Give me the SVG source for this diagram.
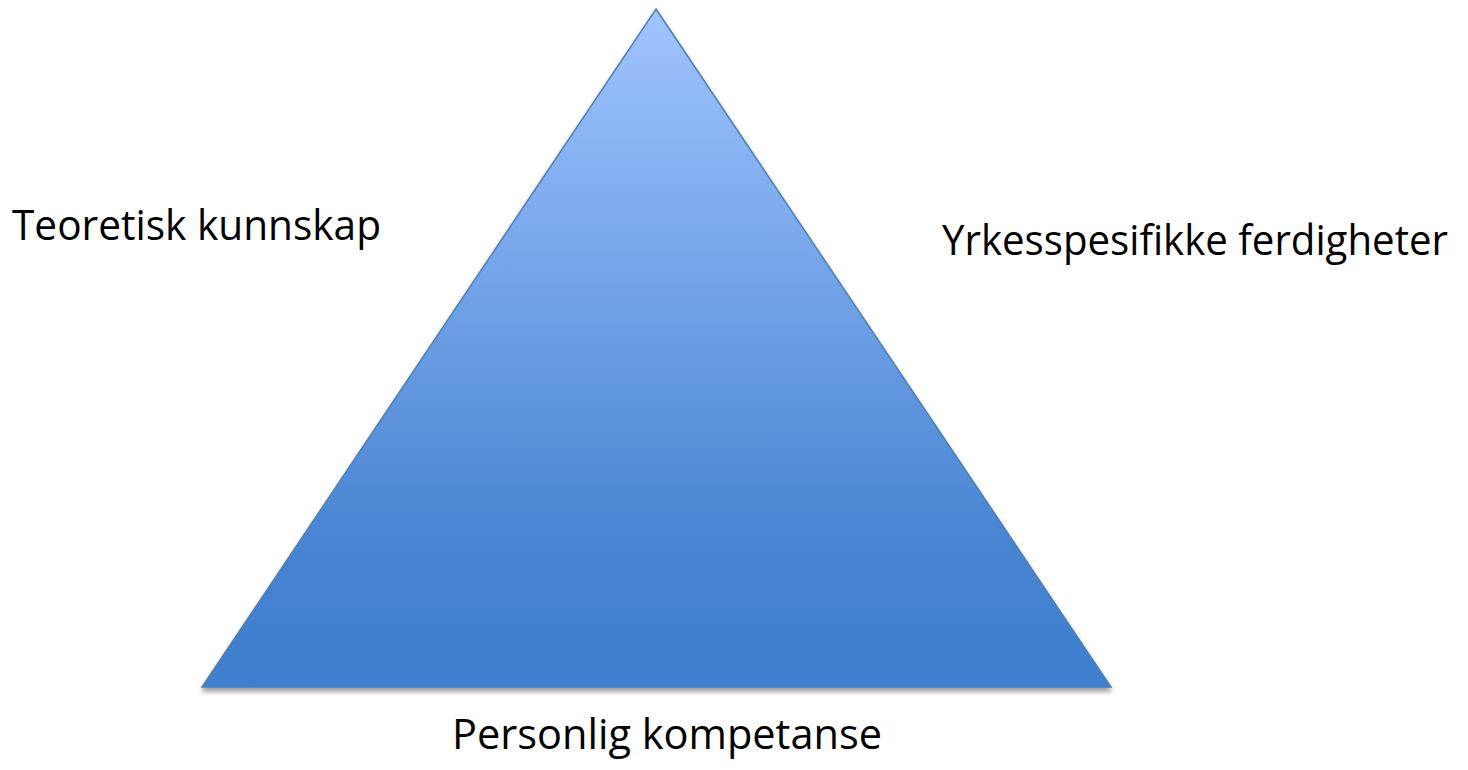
<svg xmlns="http://www.w3.org/2000/svg" width="1468" height="770" viewBox="0 0 1468 770">
<defs>
<linearGradient id="g" x1="0" y1="0" x2="0" y2="1">
<stop offset="0" stop-color="#a0c4ff"/>
<stop offset="0.8" stop-color="#4683d1"/>
<stop offset="1" stop-color="#3f7fcd"/>
</linearGradient>
<filter id="sh" x="-10%" y="-10%" width="120%" height="130%">
<feGaussianBlur in="SourceAlpha" stdDeviation="2.5"/>
<feOffset dx="0" dy="4"/>
<feComponentTransfer><feFuncA type="linear" slope="0.4"/></feComponentTransfer>
<feMerge><feMergeNode/><feMergeNode in="SourceGraphic"/></feMerge>
</filter>
</defs>
<style>
.t{font-family:"Open Sans","Liberation Sans",sans-serif;font-size:42px;fill:#000}
</style>
<rect width="1468" height="770" fill="#fff"/>
<g id="triangle">
<polygon points="656,9 1111,687 202,687" fill="url(#g)" stroke="#4a7ebb" stroke-width="1.5" filter="url(#sh)"/>
</g>
<g id="label-left"><text class="t" x="12" y="240" textLength="369" lengthAdjust="spacingAndGlyphs">Teoretisk kunnskap</text></g>
<g id="label-right"><text class="t" x="942" y="255" textLength="506" lengthAdjust="spacingAndGlyphs">Yrkesspesifikke ferdigheter</text></g>
<g id="label-bottom"><text class="t" x="452" y="749" textLength="430" lengthAdjust="spacingAndGlyphs">Personlig kompetanse</text></g>
<g id="connectors"/>
</svg>
